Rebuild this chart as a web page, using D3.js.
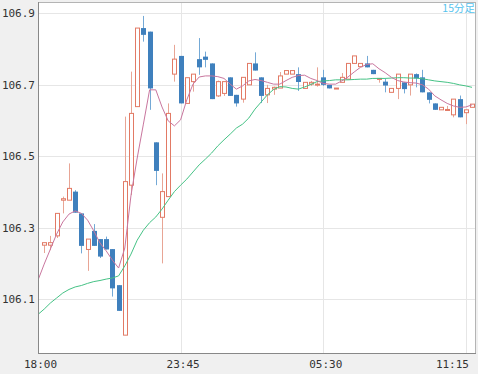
<!DOCTYPE html>
<html><head><meta charset="utf-8">
<script src="https://cdn.jsdelivr.net/npm/d3@7"></script>
<style>body{margin:0;background:#f0f0f0;} svg{display:block}</style>
</head><body><svg id="c" width="478" height="374"></svg>
<script>
// 15-minute candles, index 1..70 (index 0 = 18:00)
const opens=[106.251,106.251,106.277,106.377,106.377,106.401,106.340,106.239,106.291,106.268,
106.268,106.240,106.139,105.999,106.419,106.639,106.859,106.849,106.539,106.329,
106.387,106.730,106.781,106.648,106.709,106.772,106.779,106.760,106.669,106.676,
106.721,106.672,106.660,106.700,106.760,106.721,106.672,106.688,106.691,106.730,
106.730,106.730,106.690,106.702,106.700,106.721,106.700,106.689,106.707,106.716,
106.760,106.751,106.760,106.742,106.717,106.709,106.679,106.690,106.707,106.700,
106.730,106.721,106.679,106.648,106.630,106.630,106.616,106.660,106.622,106.637];
const highs=[106.258,106.277,106.340,106.387,106.480,106.405,106.340,106.268,106.310,106.268,
106.275,106.240,106.139,106.611,106.737,106.859,106.893,106.849,106.539,106.452,
106.648,106.812,106.781,106.720,106.730,106.831,106.793,106.760,106.712,106.709,
106.721,106.672,106.721,106.760,106.791,106.721,106.700,106.695,106.736,106.740,
106.740,106.749,106.707,106.711,106.749,106.742,106.700,106.691,106.733,106.760,
106.781,106.760,106.781,106.742,106.718,106.718,106.690,106.730,106.707,106.730,
106.732,106.742,106.679,106.648,106.637,106.641,106.660,106.670,106.630,106.646];
const lows=[106.229,106.237,106.271,106.340,106.377,106.342,106.228,106.179,106.249,106.215,
106.239,106.107,106.067,105.999,106.391,106.639,106.821,106.630,106.419,106.200,
106.387,106.709,106.648,106.648,106.681,106.728,106.749,106.660,106.666,106.669,
106.669,106.639,106.650,106.700,106.740,106.649,106.649,106.672,106.691,106.730,
106.730,106.683,106.690,106.697,106.695,106.697,106.690,106.689,106.707,106.716,
106.760,106.751,106.749,106.730,106.706,106.679,106.679,106.660,106.676,106.670,
106.693,106.679,106.648,106.630,106.630,106.630,106.609,106.609,106.590,106.637];
const closes=[106.258,106.258,106.340,106.381,106.410,106.342,106.249,106.268,106.249,106.219,
106.239,106.130,106.067,106.429,106.620,106.859,106.840,106.690,106.459,106.401,
106.620,106.772,106.648,106.720,106.730,106.749,106.770,106.660,106.709,106.709,
106.669,106.648,106.721,106.760,106.740,106.669,106.690,106.693,106.725,106.740,
106.740,106.708,106.707,106.707,106.702,106.700,106.690,106.691,106.721,106.760,
106.781,106.760,106.749,106.730,106.718,106.698,106.690,106.730,106.688,106.730,
106.718,106.679,106.658,106.630,106.637,106.631,106.660,106.609,106.630,106.646];
// moving averages, index 0..70
const maShort=[106.153,106.198,106.240,106.282,106.316,106.338,106.347,106.340,106.321,106.291,
106.257,106.235,106.209,106.187,106.243,106.391,106.495,106.590,106.686,106.686,
106.638,106.599,106.585,106.602,106.658,106.702,106.722,106.725,106.725,106.723,
106.718,106.702,106.688,106.697,106.711,106.715,106.712,106.707,106.702,106.702,
106.712,106.721,106.726,106.727,106.718,106.712,106.704,106.702,106.702,106.711,
106.722,106.736,106.749,106.757,106.759,106.745,106.734,106.721,106.712,106.708,
106.706,106.705,106.700,106.688,106.669,106.658,106.648,106.641,106.637,106.638,
106.644];
const maLong=[106.057,106.072,106.089,106.103,106.117,106.127,106.134,106.138,106.144,106.149,
106.152,106.156,106.159,106.165,106.193,106.226,106.265,106.293,106.314,106.330,
106.352,106.377,106.401,106.419,106.436,106.456,106.476,106.492,106.509,106.529,
106.546,106.562,106.579,106.590,106.607,106.632,106.652,106.672,106.687,106.695,
106.694,106.690,106.688,106.694,106.701,106.709,106.711,106.712,106.714,106.714,
106.714,106.715,106.716,106.716,106.718,106.718,106.718,106.719,106.720,106.720,
106.719,106.719,106.717,106.714,106.711,106.709,106.707,106.704,106.700,106.697,
106.693];
const xTickIdx=[0,23,46,69];
const xTickLabels=["18:00","23:45","05:30","11:15"];
const yTicks=[106.1,106.3,106.5,106.7,106.9];
const periodLabel="15分足";

const W=478,H=374,L=38,R=476,T=2,B=353;
const svg=d3.select("#c");
svg.append("rect").attr("width",W).attr("height",H).attr("fill","#f0f0f0");
svg.append("rect").attr("x",L).attr("y",T).attr("width",R-L).attr("height",B-T).attr("fill","#fff");
svg.append("defs").append("clipPath").attr("id","clip").append("rect")
  .attr("x",L).attr("y",T).attr("width",R-L).attr("height",B-T);

const x=d3.scaleLinear().domain([0,70.645]).range([L,R]);
const y=d3.scaleLinear().domain([105.949,106.932]).range([B,T]);

// grid
const g=svg.append("g");
g.selectAll(".hg").data(yTicks).join("line")
  .attr("x1",L).attr("x2",R).attr("y1",d=>Math.round(y(d))+0.5).attr("y2",d=>Math.round(y(d))+0.5)
  .attr("stroke","#e6e6e6");
g.selectAll(".vg").data(xTickIdx.slice(1)).join("line")
  .attr("y1",T).attr("y2",B).attr("x1",d=>Math.round(x(d))+0.5).attr("x2",d=>Math.round(x(d))+0.5)
  .attr("stroke","#e6e6e6");

const plot=svg.append("g").attr("clip-path","url(#clip)");
const candles=opens.map((o,k)=>({i:k+1,o,h:highs[k],l:lows[k],c:closes[k]}));
const up=d=>d.c>=d.o;
const cx=d=>Math.round(x(d.i))+0.5;
// wicks
plot.selectAll(".wick").data(candles).join("line")
  .attr("x1",cx).attr("x2",cx).attr("y1",d=>y(d.h)).attr("y2",d=>y(d.l))
  .attr("stroke",d=>up(d)?"#e8a595":"#74a9d6").attr("stroke-width",1);
// bodies
plot.selectAll(".body").data(candles).join("rect")
  .attr("x",d=>up(d)?cx(d)-2:cx(d)-2.5)
  .attr("width",d=>up(d)?4:5)
  .attr("y",d=>y(Math.max(d.o,d.c)))
  .attr("height",d=>Math.max(1,Math.abs(y(d.o)-y(d.c))))
  .attr("fill",d=>up(d)?"#fff":"#3f80bd")
  .attr("stroke",d=>up(d)?"#e27a65":"none").attr("stroke-width",1);

const line=d3.line().x((d,i)=>x(i)).y(d=>y(d));
plot.append("path").attr("d",line(maLong)).attr("fill","none").attr("stroke","#45c285").attr("stroke-width",1);
plot.append("path").attr("d",line(maShort)).attr("fill","none").attr("stroke","#c9769e").attr("stroke-width",1);

// border
svg.append("rect").attr("x",L+0.5).attr("y",T+0.5).attr("width",R-L-1).attr("height",B-T)
  .attr("fill","none").attr("stroke","#b4b4b4");
svg.append("line").attr("x1",L+0.5).attr("x2",L+0.5).attr("y1",T).attr("y2",B+1).attr("stroke","#888");
svg.append("line").attr("x1",L).attr("x2",R).attr("y1",B+0.5).attr("y2",B+0.5).attr("stroke","#888");

// axes
const font="'DejaVu Sans Mono', monospace";
const ya=svg.append("g").attr("transform",`translate(${L},0)`)
  .call(d3.axisLeft(y).tickValues(yTicks).tickFormat(d3.format(".1f")).tickSize(0).tickPadding(3));
ya.select(".domain").remove();
ya.selectAll("text").attr("font-family",font).attr("font-size",11).attr("fill","#333");
const xa=svg.append("g").attr("transform",`translate(0,${B})`)
  .call(d3.axisBottom(x).tickValues(xTickIdx).tickFormat((d,i)=>xTickLabels[i]).tickSize(0).tickPadding(7));
xa.select(".domain").remove();
xa.selectAll("text").attr("font-family",font).attr("font-size",11).attr("fill","#333")
  .attr("x",2)
  .each(function(){const b=this.getBBox();const t=d3.select(this.parentNode).attr("transform");
    const tx=+t.match(/translate\(([-\d.]+)/)[1];
    if(tx+b.x+b.width>469){d3.select(this).attr("x",469-tx-b.width/2);} });

svg.append("text").attr("x",R-1).attr("y",12).attr("text-anchor","end")
  .attr("font-family","'Noto Sans CJK JP', sans-serif").attr("font-size",10.5).attr("fill","#55c3ee")
  .text(periodLabel);
</script></body></html>
